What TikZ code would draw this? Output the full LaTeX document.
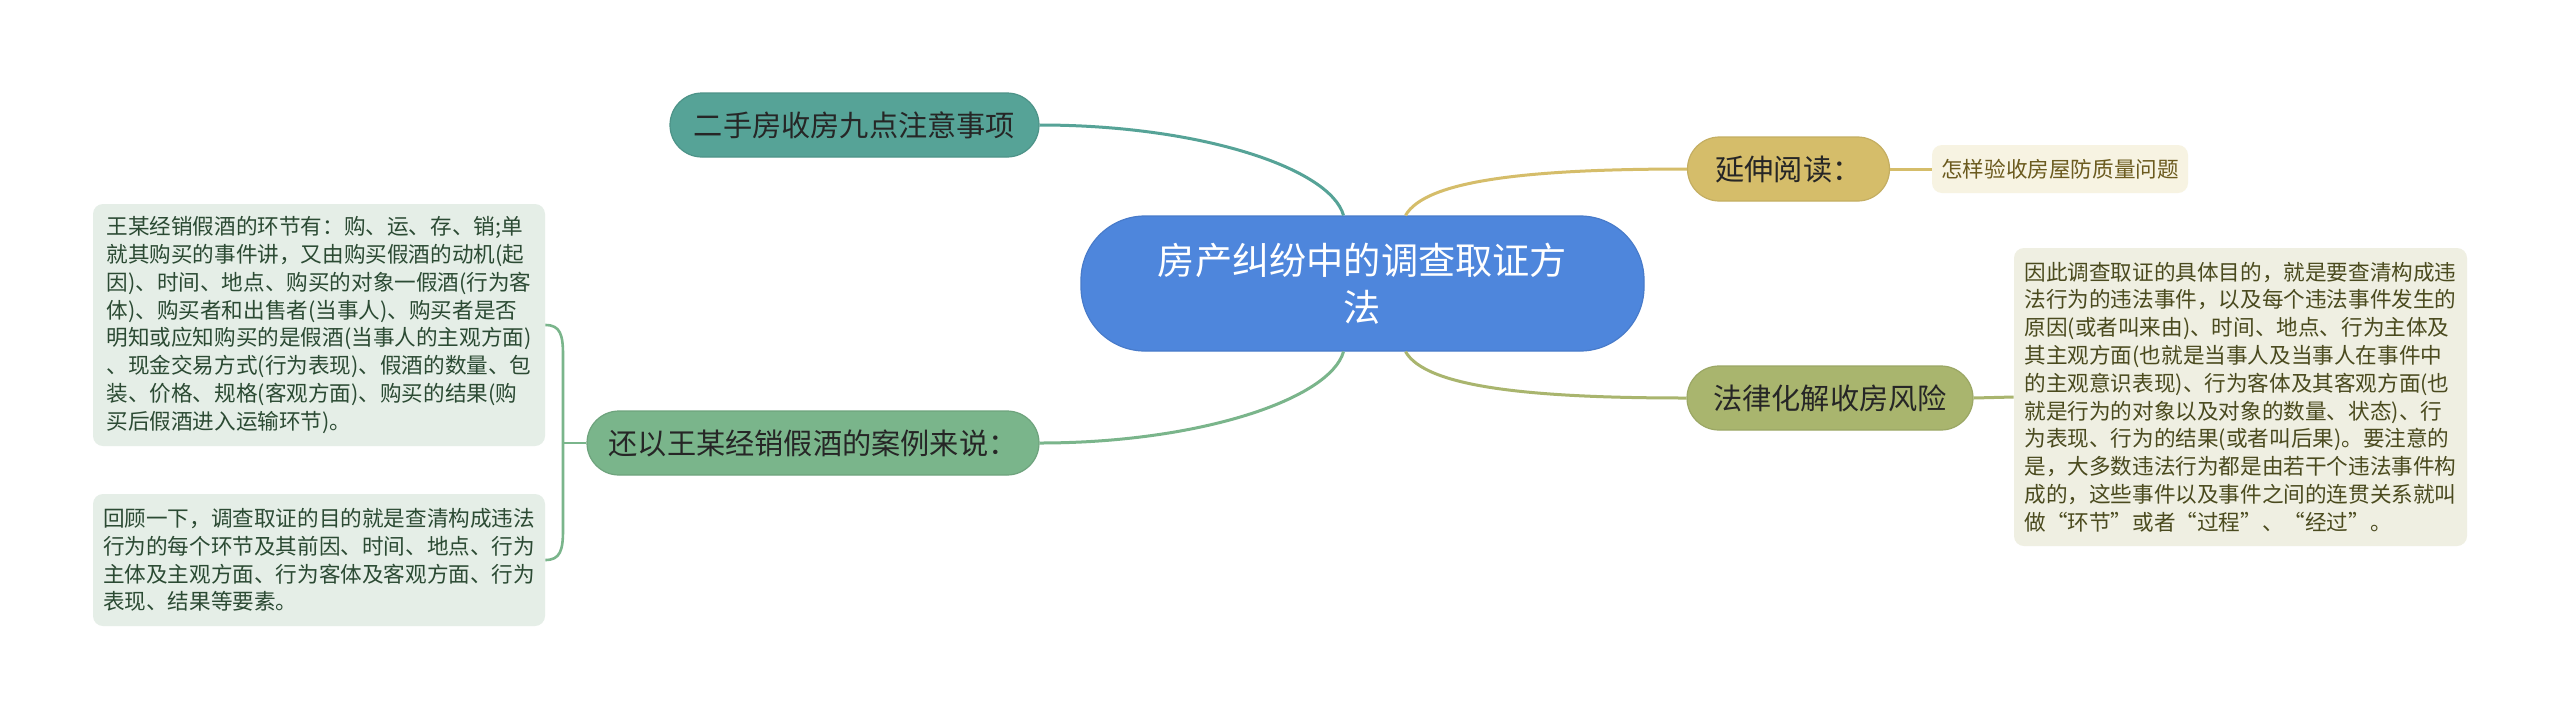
\documentclass[tikz,border=0pt]{standalone}
\usepackage{fontspec}
\newfontfamily\cjk{Noto Sans CJK SC}
\definecolor{cblue}{HTML}{4E86DC}
\definecolor{cteal}{HTML}{56A397}
\definecolor{cgreen}{HTML}{7AB58B}
\definecolor{cgold}{HTML}{D5BD6A}
\definecolor{colive}{HTML}{A9B56E}
\definecolor{boxgreen}{HTML}{E5EEE7}
\definecolor{boxolive}{HTML}{EFEFE2}
\definecolor{boxcream}{HTML}{F7F3E2}
\definecolor{txtgreen}{HTML}{2B4A33}
\definecolor{txtolive}{HTML}{4A4A1E}
\definecolor{txtgold}{HTML}{6B5A1E}
\begin{document}
\begin{tikzpicture}[x=0.5pt,y=-0.5pt,
  centerbox/.style={fill=cblue,draw=cblue!92!black,line width=0.6pt,rounded corners=32pt,
    minimum width=281.5pt,minimum height=67.5pt,inner sep=0pt,align=center,text=white,
    font=\fontsize{18.6}{23.5}\selectfont\cjk},
  topicbox/.style={rounded corners=16pt,minimum height=32pt,inner sep=0pt,line width=0.6pt,
    font=\fontsize{14.6}{18}\selectfont\cjk},
  notebox/.style={rounded corners=5pt,inner sep=0pt,align=left,
    font=\fontsize{10.8}{13.9}\selectfont\cjk},
  conn/.style={line width=1.5pt}]
\useasboundingbox (0,0) rectangle (2560,719);
\fill[white] (0,0) rectangle (2560,719);

% nodes
\node[centerbox] (c) at (1362.5,283.5) {房产纠纷中的调查取证方\\法};
\node[topicbox,fill=cteal,draw=cteal!90!black,minimum width=184.5pt,text=black!85] (n1) at (854.5,125) {二手房收房九点注意事项};
\node[topicbox,fill=cgreen,draw=cgreen!90!black,minimum width=226pt,text=black!85] (n2) at (813,443) {还以王某经销假酒的案例来说：};
\node[topicbox,fill=cgold,draw=cgold!92!black,minimum width=101pt,text=black!85] (n3) at (1788.5,169) {延伸阅读：};
\node[topicbox,fill=colive,draw=colive!92!black,minimum width=143pt,text=black!85] (n4) at (1830,398) {法律化解收房风险};

\node[notebox,fill=boxcream,minimum width=128pt,minimum height=24pt,text=txtgold,align=center] (leaf) at (2060,169) {怎样验收房屋防质量问题};

\node[notebox,fill=boxolive,minimum width=226.5pt,minimum height=149pt,text=txtolive] (rb) at (2240.5,397) {因此调查取证的具体目的，就是要查清构成违\\法行为的违法事件，以及每个违法事件发生的\\原因(或者叫来由)、时间、地点、行为主体及\\其主观方面(也就是当事人及当事人在事件中\\的主观意识表现)、行为客体及其客观方面(也\\就是行为的对象以及对象的数量、状态)、行\\为表现、行为的结果(或者叫后果)。要注意的\\是，大多数违法行为都是由若干个违法事件构\\成的，这些事件以及事件之间的连贯关系就叫\\做“环节”或者“过程”、“经过”。};

\node[notebox,fill=boxgreen,minimum width=226pt,minimum height=121pt,text=txtgreen] (tb) at (319,325) {王某经销假酒的环节有：购、运、存、销;单\\就其购买的事件讲，又由购买假酒的动机(起\\因)、时间、地点、购买的对象一假酒(行为客\\体)、购买者和出售者(当事人)、购买者是否\\明知或应知购买的是假酒(当事人的主观方面)\\、现金交易方式(行为表现)、假酒的数量、包\\装、价格、规格(客观方面)、购买的结果(购\\买后假酒进入运输环节)。};

\node[notebox,fill=boxgreen,minimum width=226pt,minimum height=66pt,text=txtgreen] (bb) at (319,560) {回顾一下，调查取证的目的就是查清构成违法\\行为的每个环节及其前因、时间、地点、行为\\主体及主观方面、行为客体及客观方面、行为\\表现、结果等要素。};

% connectors
\draw[conn,draw=cteal] ([xshift=-9.5pt]c.north) .. controls +(-13,-47) and +(161,0) .. (n1.east);
\draw[conn,draw=cgreen] ([xshift=-9.5pt]c.south) .. controls +(-13,47) and +(161,0) .. (n2.east);
\draw[conn,draw=cgold] ([xshift=21.5pt]c.north) .. controls +(20,-35) and +(-160,0) .. (n3.west);
\draw[conn,draw=colive] ([xshift=21.5pt]c.south) .. controls +(20,35) and +(-160,0) .. (n4.west);
\draw[conn,draw=cgold] (n3.east) -- (leaf.west);
\draw[conn,draw=colive] (n4.east) -- (rb.west);

\coordinate (br) at (563,443);
\draw[line width=1.3pt,draw=cgreen] (n2.west) -- (br);
\draw[line width=1.3pt,draw=cgreen] (tb.east) .. controls +(15,0) and +(0,-20) .. ([yshift=-15pt]br |- tb.east)
  -- ([yshift=15pt]br |- bb.east) .. controls +(0,20) and +(15,0) .. (bb.east);
\end{tikzpicture}
\end{document}
